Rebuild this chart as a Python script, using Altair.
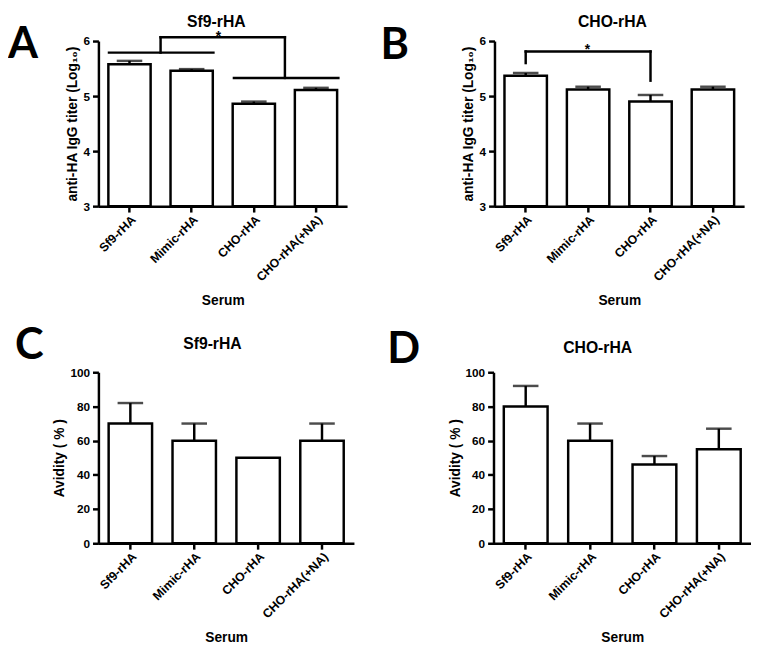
import altair as alt
import pandas as pd

serum = ["Sf9-rHA", "Mimic-rHA", "CHO-rHA", "CHO-rHA(+NA)"]

# Panel A: anti-HA IgG titer against Sf9-rHA (log10)
titer_sf9 = [5.58, 5.46, 4.86, 5.11]
titer_sf9_err = [0.06, 0.03, 0.04, 0.04]
# Panel B: anti-HA IgG titer against CHO-rHA (log10)
titer_cho = [5.37, 5.12, 4.90, 5.12]
titer_cho_err = [0.05, 0.05, 0.12, 0.05]
# Panel C: avidity against Sf9-rHA (%)
avid_sf9 = [70, 60, 50, 60]
avid_sf9_err = [12, 10, 0, 10]
# Panel D: avidity against CHO-rHA (%)
avid_cho = [80, 60, 46, 55]
avid_cho_err = [12, 10, 5, 12]

titer_ticks = [3, 4, 5, 6]
avid_ticks = [0, 20, 40, 60, 80, 100]

# significance brackets (x in category-index units 0..4, y in data units)
brA_x = [0.17, 2.18, 1.0, 1.0, 3.0]
brA_x2 = [1.85, 3.86, 1.0, 3.0, 3.0]
brA_y = [5.79, 5.33, 5.79, 6.07, 6.07]
brA_y2 = [5.79, 5.33, 6.07, 6.07, 5.33]
starA = (1.93, 6.07)

brB_x = [0.5, 0.5, 2.5]
brB_x2 = [0.5, 2.5, 2.5]
brB_y = [5.60, 5.81, 5.81]
brB_y2 = [5.81, 5.81, 5.28]
starB = (1.49, 5.81)

FONT = "Arial, Liberation Sans, Helvetica, sans-serif"


def make_panel(values, errs, domain, ticks, ytitle, width, height,
               title, title_x, title_y, letter, letter_x, letter_y,
               y_title_pad, x_title_pad, segs=None, star=None, star_dy=4):
    df = pd.DataFrame({"serum": serum, "value": values, "err": errs})
    yscale = alt.Scale(domain=domain, nice=False, zero=False)
    yaxis = alt.Axis(title=ytitle, values=ticks, titlePadding=y_title_pad,
                     labelPadding=3)
    xscale = alt.Scale(domain=serum, paddingInner=0.32, paddingOuter=0.16)
    xaxis = alt.Axis(title="Serum", labelAngle=-45, labelAlign="right",
                     labelBaseline="top", titlePadding=x_title_pad,
                     labelPadding=1, labelFontSize=12.5)
    x = alt.X("serum:N", scale=xscale, axis=xaxis, sort=serum)
    base = alt.Chart(df)
    bars = base.mark_bar(fill="white", stroke="black", strokeWidth=2.5).encode(
        x=x,
        y=alt.Y("value:Q", scale=yscale, axis=yaxis),
        y2=alt.datum(domain[0]),
    )
    errd = base.transform_filter("datum.err > 0").transform_calculate(
        top="datum.value + datum.err")
    rule = errd.mark_rule(color="black", strokeWidth=2.5).encode(
        x=x, y=alt.Y("value:Q", scale=yscale, axis=yaxis), y2="top:Q")
    cap = errd.mark_tick(color="black", thickness=2.5, size=26).encode(
        x=x, y=alt.Y("top:Q", scale=yscale, axis=yaxis))
    inner = alt.layer(bars, rule, cap)

    ttl = alt.Chart(pd.DataFrame({"t": [title]})).mark_text(
        font=FONT, fontSize=16, fontWeight="bold", align="center",
        baseline="alphabetic", color="black").encode(
        text="t:N", x=alt.value(title_x), y=alt.value(title_y))
    let = alt.Chart(pd.DataFrame({"t": [letter]})).mark_text(
        font="Lato", fontSize=44, fontWeight="bold", align="left",
        baseline="alphabetic", color="black").encode(
        text="t:N", x=alt.value(letter_x), y=alt.value(letter_y))
    layers = [inner, ttl, let]
    if segs is not None:
        bx = alt.Scale(domain=[0, 4], nice=False, zero=False)
        seg_df = pd.DataFrame({"x": segs[0], "x2": segs[1],
                               "y": segs[2], "y2": segs[3]})
        br = alt.Chart(seg_df).mark_rule(
            color="black", strokeWidth=2.5, strokeCap="square").encode(
            x=alt.X("x:Q", scale=bx, axis=None), x2="x2:Q",
            y=alt.Y("y:Q", scale=yscale, axis=yaxis), y2="y2:Q")
        st_df = pd.DataFrame({"x": [star[0]], "y": [star[1]], "t": ["*"]})
        st = alt.Chart(st_df).mark_text(
            font=FONT, fontSize=14, fontWeight="bold", baseline="alphabetic",
            dy=star_dy, color="black").encode(
            x=alt.X("x:Q", scale=bx, axis=None),
            y=alt.Y("y:Q", scale=yscale, axis=yaxis), text="t:N")
        layers += [br, st]
    return alt.layer(*layers).resolve_scale(x="independent").properties(
        width=width, height=height)


pA = make_panel(titer_sf9, titer_sf9_err, [3, 6], titer_ticks,
                "anti-HA IgG titer (Log\u2081\u2080)", 253, 168,
                "Sf9-rHA", 120, -14.4, "A", -92, 17, 4, 11,
                segs=(brA_x, brA_x2, brA_y, brA_y2), star=starA, star_dy=4)
pB = make_panel(titer_cho, titer_cho_err, [3, 6], titer_ticks,
                "anti-HA IgG titer (Log\u2081\u2080)", 254, 168,
                "CHO-rHA", 120, -14.4, "B", -116, 18, 4, 11,
                segs=(brB_x, brB_x2, brB_y, brB_y2), star=starB, star_dy=3)
pC = make_panel(avid_sf9, avid_sf9_err, [0, 100], avid_ticks,
                "Avidity ( % )", 260, 174,
                "Sf9-rHA", 116, -23.5, "C", -85, -13.5, 3, 11)
pD = make_panel(avid_cho, avid_cho_err, [0, 100], avid_ticks,
                "Avidity ( % )", 262, 174,
                "CHO-rHA", 106, -19.5, "D", -108, -9.5, 3, 11)

row1 = alt.hconcat(pA, pB, spacing=150, bounds="flush")
row2 = alt.hconcat(pC, pD, spacing=142, bounds="flush")

chart = alt.vconcat(row1, row2, spacing=16, bounds="full").properties(
    padding={"left": 0, "top": 0, "right": 0, "bottom": 0}
).configure_axis(
    domainColor="black", domainWidth=2.5, tickColor="black", tickWidth=2.5,
    tickSize=6, grid=False, labelFont=FONT, labelFontWeight="bold",
    labelFontSize=12, labelColor="black", titleFont=FONT,
    titleFontWeight="bold", titleFontSize=14, titleColor="black",
).configure_view(stroke=None)

chart.save("out.html", embed_options={"renderer": "svg", "actions": False})
